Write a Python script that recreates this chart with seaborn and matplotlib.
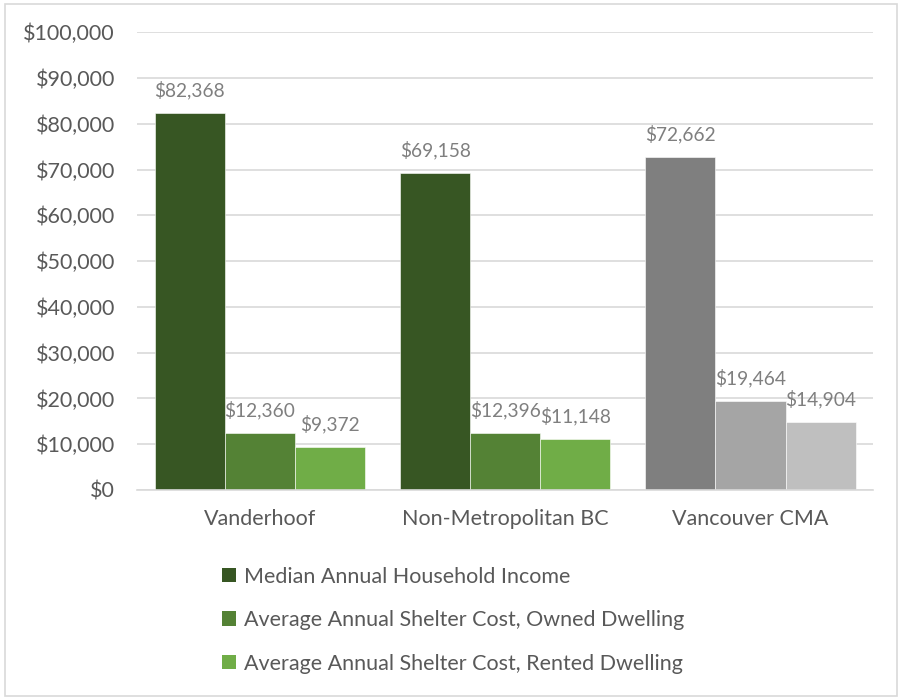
import matplotlib
matplotlib.use("Agg")
import matplotlib.pyplot as plt
import seaborn as sns
import pandas as pd
from matplotlib.patches import Rectangle, Patch

regions = ["Vanderhoof", "Non-Metropolitan BC", "Vancouver CMA"]
series = ["Median Annual Household Income",
          "Average Annual Shelter Cost, Owned Dwelling",
          "Average Annual Shelter Cost, Rented Dwelling"]
income = [82368, 69158, 72662]
owned = [12360, 12396, 19464]
rented = [9372, 11148, 14904]
yticks = [0, 10000, 20000, 30000, 40000, 50000, 60000, 70000, 80000, 90000, 100000]

greens = ["#375623", "#548235", "#70AD47"]
grays = ["#7F7F7F", "#A5A5A5", "#BFBFBF"]

rows = []
for s, vals in zip(series, [income, owned, rented]):
    for r, v in zip(regions, vals):
        rows.append({"region": r, "series": s, "value": v})
df = pd.DataFrame(rows)

sns.set_theme(style="white")
plt.rcParams["font.family"] = ["Lato", "DejaVu Sans"]

fig = plt.figure(figsize=(9.02, 7.0), dpi=100)
ax = fig.add_axes([0.152, 0.3, 0.816, 0.654])

sns.barplot(data=df, x="region", y="value", hue="series", order=regions,
            hue_order=series, palette=greens, saturation=1, width=0.857,
            edgecolor="#FFFFFF", linewidth=0.4, ax=ax, legend=False)

# recolor Vancouver CMA bars in gray
for i, cont in enumerate(ax.containers):
    cont[2].set_facecolor(grays[i])

for cont in ax.containers:
    labels = [f"${p.get_height():,.0f}" for p in cont]
    ax.bar_label(cont, labels=labels, padding=10, fontsize=13.8, color="#7F7F7F")

ax.set_ylim(0, 100000)
ax.set_yticks(yticks)
ax.set_yticklabels([f"${v:,.0f}" for v in yticks])
ax.yaxis.grid(True, color="#D9D9D9", linewidth=1.2)
ax.set_axisbelow(True)
for s in ["left", "right", "top"]:
    ax.spines[s].set_visible(False)
ax.spines["bottom"].set_color("#D9D9D9")
ax.spines["bottom"].set_linewidth(1.2)
ax.tick_params(axis="both", length=0, labelsize=15.5, colors="#595959")
ax.tick_params(axis="y", pad=16)
ax.tick_params(axis="x", pad=14)
ax.set_xlabel("")
ax.set_ylabel("")

handles = [Patch(facecolor=c, edgecolor="none") for c in greens]
fig.legend(handles, series, loc="upper left", bbox_to_anchor=(0.237, 0.203),
           frameon=False, fontsize=15.5, labelcolor="#595959",
           handlelength=0.65, handleheight=0.65, handletextpad=0.35,
           labelspacing=1.1, borderaxespad=0)

fig.patches.append(Rectangle((0.005, 0.006), 0.99, 0.988, transform=fig.transFigure,
                             fill=False, edgecolor="#D9D9D9", linewidth=1.2))

fig.savefig("out.png", dpi=100)
